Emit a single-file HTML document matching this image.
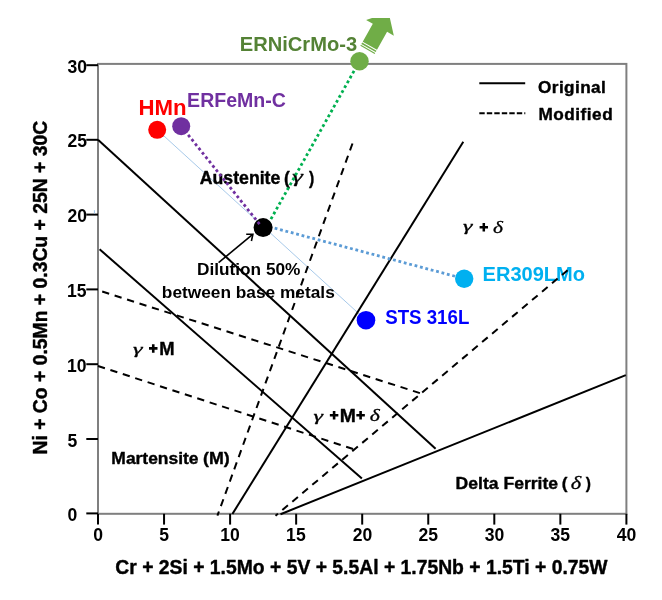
<!DOCTYPE html>
<html><head><meta charset="utf-8"><title>Schaeffler diagram</title>
<style>html,body{margin:0;padding:0;background:#fff;}svg{display:block;will-change:transform;}text{font-family:"Liberation Sans",sans-serif;font-weight:bold;}.hv{stroke:#000;stroke-width:0.4px;stroke-linejoin:round;}.gk{font-family:"Liberation Serif",serif;font-style:italic;font-weight:normal;stroke:#000;stroke-width:0.3px;}</style></head><body>
<svg width="662" height="600" viewBox="0 0 662 600">
<rect x="0" y="0" width="662" height="600" fill="#ffffff"/>
<rect x="98" y="63.9" width="528.4" height="449.9" fill="none" stroke="#7f7f7f" stroke-width="2"/>
<g stroke="#000" stroke-width="2" fill="none">
<line x1="86.3" y1="513.40" x2="98" y2="513.40"/>
<line x1="86.3" y1="439.00" x2="98" y2="439.00"/>
<line x1="86.3" y1="364.20" x2="98" y2="364.20"/>
<line x1="86.3" y1="289.40" x2="98" y2="289.40"/>
<line x1="86.3" y1="214.60" x2="98" y2="214.60"/>
<line x1="86.3" y1="139.80" x2="98" y2="139.80"/>
<line x1="86.3" y1="65.20" x2="98" y2="65.20"/>
<line x1="98.00" y1="513.8" x2="98.00" y2="524.6"/>
<line x1="164.05" y1="513.8" x2="164.05" y2="524.6"/>
<line x1="230.10" y1="513.8" x2="230.10" y2="524.6"/>
<line x1="296.15" y1="513.8" x2="296.15" y2="524.6"/>
<line x1="362.20" y1="513.8" x2="362.20" y2="524.6"/>
<line x1="428.25" y1="513.8" x2="428.25" y2="524.6"/>
<line x1="494.30" y1="513.8" x2="494.30" y2="524.6"/>
<line x1="560.35" y1="513.8" x2="560.35" y2="524.6"/>
<line x1="626.40" y1="513.8" x2="626.40" y2="524.6"/>
</g>
<text x="67.42" y="521.40" font-size="18.4" textLength="9.77" lengthAdjust="spacingAndGlyphs">0</text>
<text x="67.42" y="446.60" font-size="18.4" textLength="9.77" lengthAdjust="spacingAndGlyphs">5</text>
<text x="66.95" y="371.80" font-size="18.4" textLength="19.55" lengthAdjust="spacingAndGlyphs">10</text>
<text x="66.95" y="297.00" font-size="18.4" textLength="19.55" lengthAdjust="spacingAndGlyphs">15</text>
<text x="67.42" y="222.20" font-size="18.4" textLength="19.55" lengthAdjust="spacingAndGlyphs">20</text>
<text x="67.42" y="147.40" font-size="18.4" textLength="19.55" lengthAdjust="spacingAndGlyphs">25</text>
<text x="67.42" y="72.60" font-size="18.4" textLength="19.55" lengthAdjust="spacingAndGlyphs">30</text>
<text x="93.22" y="540.7" font-size="18.4" textLength="9.77" lengthAdjust="spacingAndGlyphs">0</text>
<text x="159.28" y="540.7" font-size="18.4" textLength="9.77" lengthAdjust="spacingAndGlyphs">5</text>
<text x="220.31" y="540.7" font-size="18.4" textLength="19.55" lengthAdjust="spacingAndGlyphs">10</text>
<text x="286.12" y="540.7" font-size="18.4" textLength="19.55" lengthAdjust="spacingAndGlyphs">15</text>
<text x="352.65" y="540.7" font-size="18.4" textLength="19.55" lengthAdjust="spacingAndGlyphs">20</text>
<text x="418.46" y="540.7" font-size="18.4" textLength="19.55" lengthAdjust="spacingAndGlyphs">25</text>
<text x="484.75" y="540.7" font-size="18.4" textLength="19.55" lengthAdjust="spacingAndGlyphs">30</text>
<text x="550.56" y="540.7" font-size="18.4" textLength="19.55" lengthAdjust="spacingAndGlyphs">35</text>
<text x="616.85" y="540.7" font-size="18.4" textLength="19.55" lengthAdjust="spacingAndGlyphs">40</text>
<text x="115.30" y="573.8" font-size="19.3" textLength="492.24" lengthAdjust="spacingAndGlyphs" class="hv">Cr + 2Si + 1.5Mo + 5V + 5.5Al + 1.75Nb + 1.5Ti + 0.75W</text>
<text class="hv" transform="translate(47.2,453) rotate(-90)" x="-1.50" y="0" font-size="19.3" textLength="333.69" lengthAdjust="spacingAndGlyphs">Ni + Co + 0.5Mn + 0.3Cu + 25N + 30C</text>
<line x1="157.2" y1="129.8" x2="366" y2="320.2" stroke="#9dc3e6" stroke-width="0.9"/>
<line x1="479.3" y1="83.2" x2="525.2" y2="83.2" stroke="#000" stroke-width="2"/>
<line x1="479.3" y1="113.35" x2="525.3" y2="113.35" stroke="#000" stroke-width="2" stroke-dasharray="5.4 2.1"/>
<line x1="94.4" y1="210.2" x2="94.4" y2="213.6" stroke="#9dc3e6" stroke-width="1"/>
<text x="538.08" y="92.7" font-size="17.2" textLength="67.74" lengthAdjust="spacing" class="hv">Original</text>
<text x="538.55" y="119.9" font-size="17.2" textLength="74.08" lengthAdjust="spacing" class="hv">Modified</text>
<text x="199.79" y="184.1" font-size="17.5" textLength="80.55" lengthAdjust="spacingAndGlyphs" class="hv">Austenite</text>
<text x="283.90" y="184.1" font-size="17.5" textLength="5.83" lengthAdjust="spacingAndGlyphs" class="hv">(</text>
<text class="gk" transform="translate(292.26,182.26) scale(1.6372,1)" font-size="16.39">γ</text>
<text x="308.90" y="184.1" font-size="17.5" textLength="5.25" lengthAdjust="spacingAndGlyphs" class="hv">)</text>
<text x="111.39" y="464.1" font-size="17.3" textLength="87.09" lengthAdjust="spacingAndGlyphs" class="hv">Martensite</text>
<text x="202.97" y="464.1" font-size="17.3" textLength="26.68" lengthAdjust="spacingAndGlyphs" class="hv">(M)</text>
<text x="455.58" y="489.1" font-size="17.3" textLength="102.52" lengthAdjust="spacingAndGlyphs" class="hv">Delta Ferrite</text>
<text x="561.70" y="489.1" font-size="17.3" textLength="5.76" lengthAdjust="spacingAndGlyphs" class="hv">(</text>
<text class="gk" transform="translate(570.63,488.62) scale(1.2475,1)" font-size="18.01">δ</text>
<text x="585.80" y="489.1" font-size="17.3" textLength="5.18" lengthAdjust="spacingAndGlyphs" class="hv">)</text>
<text class="gk" transform="translate(132.91,354.04) scale(1.6162,1)" font-size="15.04">γ</text>
<path d="M149.00,347.10h8.5v2.6h-8.5zM151.95,344.15h2.6v8.5h-2.6z" fill="#000"/>
<text x="159.20" y="355.1" font-size="18.5" textLength="15.35" lengthAdjust="spacingAndGlyphs" class="hv">M</text>
<text class="gk" transform="translate(313.62,420.52) scale(1.5379,1)" font-size="15.64">γ</text>
<path d="M329.85,413.90h8.5v2.6h-8.5zM332.80,410.95h2.6v8.5h-2.6z" fill="#000"/>
<text x="339.85" y="422.2" font-size="18.5" textLength="16.13" lengthAdjust="spacingAndGlyphs" class="hv">M</text>
<path d="M356.35,413.90h8.5v2.6h-8.5zM359.30,410.95h2.6v8.5h-2.6z" fill="#000"/>
<text class="gk" transform="translate(369.65,421.13) scale(1.2365,1)" font-size="17.45">δ</text>
<text class="gk" transform="translate(463.02,231.32) scale(1.5379,1)" font-size="15.64">γ</text>
<path d="M479.60,225.95h8.4v2.5h-8.4zM482.55,223.00h2.5v8.4h-2.5z" fill="#000"/>
<text class="gk" transform="translate(493.06,232.62) scale(1.2138,1)" font-size="17.59">δ</text>
<g stroke="#000" stroke-width="1.6" fill="none"><line x1="218.6" y1="262.6" x2="252.4" y2="234.7"/><polyline points="246.2,234.2 252.9,234.2 251.4,241"/></g>
<text x="196.93" y="274.8" font-size="16.1" textLength="103.49" lengthAdjust="spacingAndGlyphs">Dilution 50%</text>
<text x="161.83" y="297.7" font-size="16.1" textLength="172.93" lengthAdjust="spacingAndGlyphs">between base metals</text>
<text x="138.43" y="114.7" font-size="21.3" textLength="48.15" lengthAdjust="spacingAndGlyphs" fill="#ff0000">HMn</text>
<text x="187.10" y="106.7" font-size="20.9" textLength="98.81" lengthAdjust="spacingAndGlyphs" fill="#7030a0">ERFeMn-C</text>
<text x="239.72" y="50.9" font-size="20.4" textLength="117.47" lengthAdjust="spacingAndGlyphs" fill="#548235">ERNiCrMo-3</text>
<text x="482.55" y="280.7" font-size="20.7" textLength="102.53" lengthAdjust="spacingAndGlyphs" fill="#00b0f0">ER309LMo</text>
<text x="385.19" y="324.1" font-size="20.5" textLength="84.14" lengthAdjust="spacingAndGlyphs" fill="#0000ff">STS 316L</text>
<g stroke="#000" stroke-width="2" fill="none" stroke-linecap="butt">
<line x1="98" y1="139.8" x2="435.6" y2="448.7"/>
<line x1="99.6" y1="249.3" x2="361.9" y2="478.6"/>
<line x1="232.4" y1="514" x2="463.3" y2="141.7"/>
<line x1="280.5" y1="514.2" x2="625.8" y2="375.1"/>
</g>
<g stroke="#000" stroke-width="2" fill="none" stroke-dasharray="7.3 5.75">
<line x1="352.5" y1="143.5" x2="217.4" y2="515.7"/>
<line x1="419.9" y1="393.1" x2="98" y2="290.2"/>
<line x1="353.1" y1="449" x2="97.7" y2="365.9"/>
<line x1="567.6" y1="270.2" x2="275.5" y2="515.8"/>
</g>
<g fill="none" stroke-width="2.8" stroke-dasharray="2.8 2.77">
<line x1="359.5" y1="61.2" x2="266.2" y2="227.5" stroke="#00b050"/>
<line x1="263.9" y1="225.3" x2="464.2" y2="278.7" stroke="#5b9bd5"/>
</g>
<circle cx="157.2" cy="129.8" r="9" fill="#ff0000"/>
<circle cx="181.2" cy="126.2" r="9" fill="#7030a0"/>
<circle cx="263.1" cy="227.6" r="9.5" fill="#000"/>
<circle cx="359.5" cy="61.2" r="9.2" fill="#70ad47"/>
<circle cx="464.2" cy="278.7" r="9.2" fill="#00b0f0"/>
<circle cx="366" cy="320.2" r="9.3" fill="#0000ff"/>
<g fill="none" stroke-width="2.8" stroke-dasharray="2.8 2.77">
<line x1="181.2" y1="126.2" x2="259.7" y2="224.3" stroke="#7030a0"/>
</g>
<defs><clipPath id="topclip"><rect x="0" y="17.9" width="662" height="600"/></clipPath></defs>
<g clip-path="url(#topclip)"><g transform="translate(367.5,49.85) rotate(-60.5)" fill="#70ad47"><rect x="0" y="-8.2" width="1.1" height="16.4"/><rect x="2.1" y="-8.2" width="1.6" height="16.4"/><polygon points="4.8,-8.2 25.3,-8.2 25.3,-15.95 42.9,0 25.3,15.95 25.3,8.2 4.8,8.2"/></g></g>
</svg></body></html>
